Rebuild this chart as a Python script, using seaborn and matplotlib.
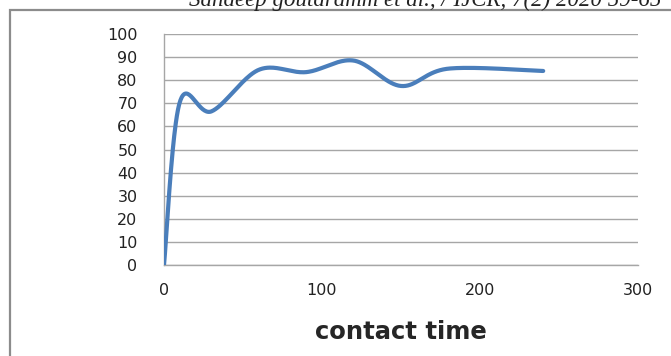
"""adsorption vs contact time, excel style smoothed line
"""
import matplotlib as mpl
mpl.use("Agg")
import matplotlib.pyplot as plt
import seaborn as sns
import numpy as np
import pandas as pd
from matplotlib.patches import Rectangle

contact_time = [0, 10, 30, 60, 90, 120, 150, 180, 240]
removal = [0, 70.5, 66.5, 84.5, 83.5, 88.5, 77.5, 85, 84]
x_ticks = [0, 100, 200, 300]
y_ticks = list(range(0, 101, 10))

LINE_COLOR = "#4a7ebb"
GRID_COLOR = "#a6a6a6"


def excel_smooth(xs, ys, n=40):
    # bezier segments with catmull-rom control points, like excel "smoothed line"
    p = np.column_stack([xs, ys]).astype(float)
    pts = np.vstack([p[0], p, p[-1]])
    out = []
    for i in range(1, len(pts) - 2):
        p0, p1, p2, p3 = pts[i - 1], pts[i], pts[i + 1], pts[i + 2]
        b1 = p1 + (p2 - p0) / 6
        b2 = p2 - (p3 - p1) / 6
        t = np.linspace(0, 1, n)[:, None]
        seg = (1 - t) ** 3 * p1 + 3 * (1 - t) ** 2 * t * b1 + 3 * (1 - t) * t ** 2 * b2 + t ** 3 * p2
        out.append(seg if i == 1 else seg[1:])
    return np.vstack(out)


curve = excel_smooth(contact_time, removal)
df = pd.DataFrame({"contact time": curve[:, 0], "removal": curve[:, 1]})

sns.set_style("white")
plt.rcParams["font.family"] = ["DejaVu Sans"]
mpl.rcParams["axes.linewidth"] = 1.0

fig = plt.figure(figsize=(6.71, 3.56), dpi=100)
ax = fig.add_axes([164 / 671, 1 - 265 / 356, (638 - 164) / 671, (265 - 34) / 356])

# chart border and cut-off header text
fig.patches.append(Rectangle((9.5 / 671, -0.1), 1.0, 1 - 9.5 / 356 + 0.1,
                             transform=fig.transFigure, fill=False,
                             edgecolor="#8c8c8c", linewidth=1.6, zorder=0))
fig.text(0.633, 1.0, "Sandeep goutaramm et al., / IJCR, 7(2) 2020 59-65",
         ha="center", va="center", fontsize=16.5, style="italic",
         family=["Liberation Serif", "DejaVu Serif"], color="#222222")

sns.lineplot(data=df, x="contact time", y="removal", sort=False,
             color=LINE_COLOR, linewidth=3.0, ax=ax, zorder=3)

ax.set_xlim(0, 300)
ax.set_ylim(0, 100)
ax.set_xticks(x_ticks)
ax.set_yticks(y_ticks)
ax.yaxis.grid(True, color=GRID_COLOR, linewidth=1.0)
ax.xaxis.grid(False)
for s in ["top", "right"]:
    ax.spines[s].set_visible(False)
for s in ["left", "bottom"]:
    ax.spines[s].set_color(GRID_COLOR)
ax.tick_params(axis="y", length=7, width=1.0, color=GRID_COLOR, pad=12, labelsize=11.5, labelcolor="#222222")
ax.tick_params(axis="x", length=4, width=1.0, color=GRID_COLOR, pad=9, labelsize=11.5, labelcolor="#222222")
ax.set_ylabel("")
ax.set_xlabel("contact time", fontsize=17.5, fontweight="bold", labelpad=16)

plt.savefig("out.png", dpi=100)
